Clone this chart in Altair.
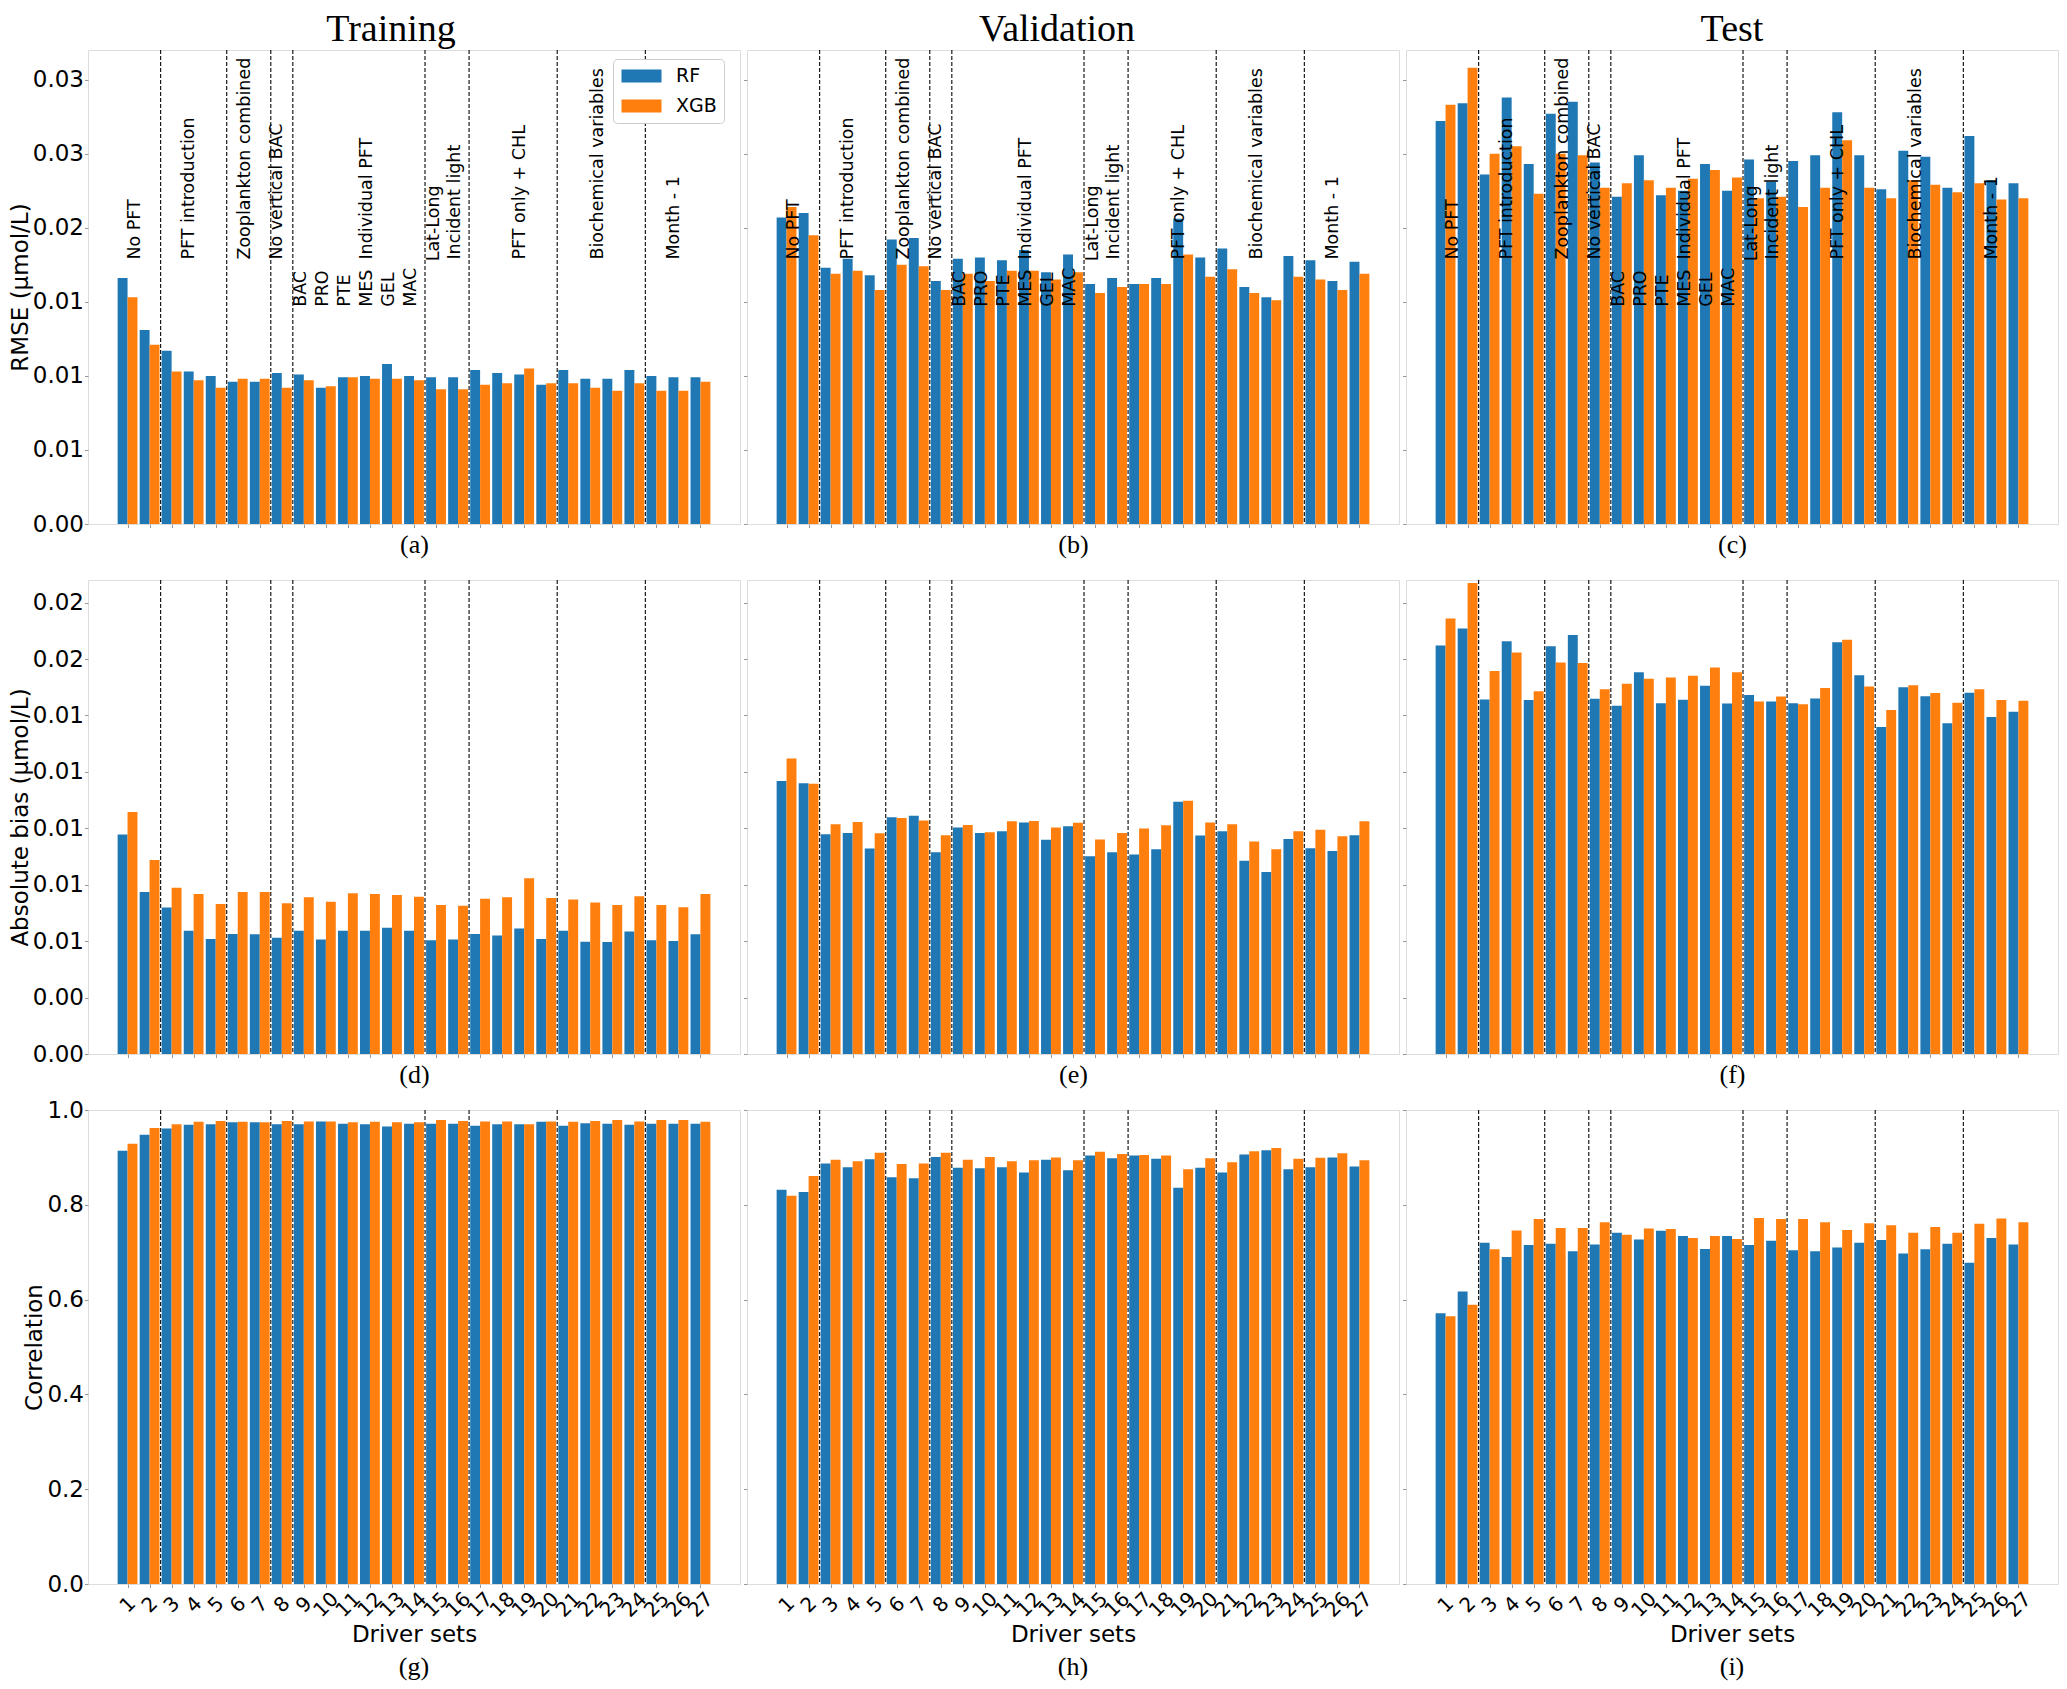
import json
import altair as alt
import pandas as pd

# ---------------- data ----------------
sets = list(range(1, 28))
models = ["RF", "XGB"]

rmse_train_rf = [0.0166, 0.0131, 0.0117, 0.0103, 0.0100, 0.0096, 0.0096, 0.0102, 0.0101, 0.0092, 0.0099, 0.0100, 0.0108, 0.0100, 0.0099, 0.0099, 0.0104, 0.0102, 0.0101, 0.0094, 0.0104, 0.0098, 0.0098, 0.0104, 0.0100, 0.0099, 0.0099]
rmse_train_xgb = [0.0153, 0.0121, 0.0103, 0.0097, 0.0092, 0.0098, 0.0098, 0.0092, 0.0097, 0.0093, 0.0099, 0.0098, 0.0098, 0.0097, 0.0091, 0.0091, 0.0094, 0.0095, 0.0105, 0.0095, 0.0095, 0.0092, 0.0090, 0.0095, 0.0090, 0.0090, 0.0096]
rmse_val_rf = [0.0207, 0.0210, 0.0173, 0.0179, 0.0168, 0.0192, 0.0193, 0.0164, 0.0179, 0.0180, 0.0178, 0.0185, 0.0170, 0.0182, 0.0162, 0.0166, 0.0162, 0.0166, 0.0206, 0.0180, 0.0186, 0.0160, 0.0153, 0.0181, 0.0178, 0.0164, 0.0177]
rmse_val_xgb = [0.0214, 0.0195, 0.0169, 0.0171, 0.0158, 0.0175, 0.0174, 0.0158, 0.0169, 0.0164, 0.0171, 0.0171, 0.0165, 0.0170, 0.0156, 0.0160, 0.0162, 0.0162, 0.0182, 0.0167, 0.0172, 0.0156, 0.0151, 0.0167, 0.0165, 0.0158, 0.0169]
rmse_test_rf = [0.0272, 0.0284, 0.0236, 0.0288, 0.0243, 0.0277, 0.0285, 0.0244, 0.0221, 0.0249, 0.0222, 0.0225, 0.0243, 0.0225, 0.0246, 0.0231, 0.0245, 0.0249, 0.0278, 0.0249, 0.0226, 0.0252, 0.0248, 0.0227, 0.0262, 0.0232, 0.0230]
rmse_test_xgb = [0.0283, 0.0308, 0.0250, 0.0255, 0.0223, 0.0250, 0.0249, 0.0227, 0.0230, 0.0232, 0.0227, 0.0233, 0.0239, 0.0234, 0.0220, 0.0221, 0.0214, 0.0227, 0.0259, 0.0227, 0.0220, 0.0232, 0.0229, 0.0224, 0.0230, 0.0219, 0.0220]

bias_train_rf = [0.00972, 0.00718, 0.00649, 0.00546, 0.00510, 0.00532, 0.00531, 0.00515, 0.00546, 0.00507, 0.00546, 0.00546, 0.00559, 0.00546, 0.00504, 0.00507, 0.00532, 0.00525, 0.00556, 0.00510, 0.00546, 0.00497, 0.00496, 0.00543, 0.00504, 0.00501, 0.00531]
bias_train_xgb = [0.01072, 0.00860, 0.00737, 0.00709, 0.00665, 0.00718, 0.00718, 0.00668, 0.00694, 0.00674, 0.00712, 0.00709, 0.00704, 0.00697, 0.00660, 0.00657, 0.00688, 0.00694, 0.00779, 0.00691, 0.00685, 0.00671, 0.00660, 0.00699, 0.00660, 0.00650, 0.00709]
bias_val_rf = [0.01210, 0.01200, 0.00974, 0.00979, 0.00910, 0.01049, 0.01056, 0.00894, 0.01003, 0.00979, 0.00987, 0.01026, 0.00949, 0.01009, 0.00876, 0.00894, 0.00884, 0.00907, 0.01118, 0.00968, 0.00987, 0.00856, 0.00806, 0.00953, 0.00912, 0.00899, 0.00969]
bias_val_xgb = [0.01309, 0.01197, 0.01018, 0.01028, 0.00978, 0.01046, 0.01034, 0.00969, 0.01015, 0.00982, 0.01031, 0.01032, 0.01003, 0.01024, 0.00950, 0.00979, 0.00999, 0.01013, 0.01122, 0.01026, 0.01018, 0.00941, 0.00907, 0.00987, 0.00993, 0.00965, 0.01031]
bias_test_rf = [0.01810, 0.01885, 0.01571, 0.01829, 0.01568, 0.01807, 0.01856, 0.01574, 0.01543, 0.01691, 0.01554, 0.01569, 0.01632, 0.01553, 0.01590, 0.01562, 0.01554, 0.01575, 0.01824, 0.01678, 0.01449, 0.01625, 0.01585, 0.01465, 0.01601, 0.01493, 0.01516]
bias_test_xgb = [0.01929, 0.02087, 0.01697, 0.01779, 0.01607, 0.01735, 0.01732, 0.01616, 0.01640, 0.01663, 0.01668, 0.01676, 0.01712, 0.01691, 0.01562, 0.01584, 0.01550, 0.01622, 0.01835, 0.01628, 0.01524, 0.01634, 0.01599, 0.01556, 0.01616, 0.01568, 0.01565]

corr_train_rf = [0.914, 0.948, 0.961, 0.969, 0.970, 0.974, 0.974, 0.970, 0.970, 0.976, 0.971, 0.970, 0.965, 0.971, 0.971, 0.971, 0.967, 0.970, 0.970, 0.975, 0.967, 0.972, 0.971, 0.969, 0.971, 0.971, 0.971]
corr_train_xgb = [0.929, 0.962, 0.970, 0.975, 0.977, 0.975, 0.974, 0.977, 0.976, 0.976, 0.974, 0.975, 0.974, 0.974, 0.979, 0.977, 0.976, 0.976, 0.970, 0.976, 0.975, 0.977, 0.979, 0.976, 0.979, 0.979, 0.975]
corr_val_rf = [0.832, 0.827, 0.887, 0.879, 0.896, 0.858, 0.856, 0.901, 0.878, 0.877, 0.879, 0.868, 0.895, 0.873, 0.904, 0.898, 0.904, 0.897, 0.836, 0.878, 0.868, 0.906, 0.915, 0.875, 0.879, 0.900, 0.881]
corr_val_xgb = [0.819, 0.861, 0.895, 0.892, 0.910, 0.886, 0.887, 0.910, 0.895, 0.901, 0.892, 0.894, 0.900, 0.894, 0.912, 0.907, 0.905, 0.904, 0.875, 0.898, 0.890, 0.913, 0.920, 0.897, 0.899, 0.909, 0.894]
corr_test_rf = [0.571, 0.617, 0.720, 0.690, 0.715, 0.718, 0.702, 0.716, 0.741, 0.727, 0.745, 0.734, 0.707, 0.734, 0.715, 0.724, 0.704, 0.702, 0.710, 0.720, 0.726, 0.697, 0.706, 0.718, 0.678, 0.730, 0.716]
corr_test_xgb = [0.565, 0.589, 0.706, 0.746, 0.770, 0.751, 0.751, 0.763, 0.737, 0.750, 0.749, 0.730, 0.734, 0.728, 0.772, 0.770, 0.770, 0.763, 0.747, 0.761, 0.757, 0.741, 0.753, 0.741, 0.760, 0.771, 0.763]

group_boundaries = [2.5, 5.5, 7.5, 8.5, 14.5, 16.5, 20.5, 24.5]

ann_labels = ["No PFT", "PFT introduction", "Zooplankton combined", "No vertical BAC",
              "BAC", "PRO", "PTE", "MES", "Individual PFT", "GEL", "MAC",
              "Lat-Long", "Incident light", "PFT only + CHL", "Biochemical variables", "Month - 1"]
ann_x = [1.34, 3.81, 6.32, 7.77, 8.89, 9.85, 10.88, 11.85, 11.85, 12.85, 13.88,
         14.89, 15.86, 18.81, 22.33, 25.82]
ann_y = [0.01785, 0.01785, 0.01785, 0.01785, 0.01466, 0.01466, 0.01466, 0.01466, 0.01785,
         0.01466, 0.01466, 0.01773, 0.01785, 0.01785, 0.01785, 0.01785]

rmse_ticks = [0.0, 0.005, 0.010, 0.015, 0.020, 0.025, 0.030]
rmse_tick_labels = ["0.00", "0.01", "0.01", "0.01", "0.02", "0.03", "0.03"]
bias_ticks = [0.0, 0.0025, 0.005, 0.0075, 0.010, 0.0125, 0.015, 0.0175, 0.020]
bias_tick_labels = ["0.00", "0.00", "0.01", "0.01", "0.01", "0.01", "0.01", "0.02", "0.02"]
corr_ticks = [0.0, 0.2, 0.4, 0.6, 0.8, 1.0]
corr_tick_labels = ["0.0", "0.2", "0.4", "0.6", "0.8", "1.0"]

col_titles = ["Training", "Validation", "Test"]
panel_letters = [["(a)", "(b)", "(c)"], ["(d)", "(e)", "(f)"], ["(g)", "(h)", "(i)"]]
row_titles = ["RMSE (μmol/L)", "Absolute bias (μmol/L)", "Correlation"]
x_title = "Driver sets"

# ---------------- styling / layout ----------------
W = 652
H = [474, 474, 474]
y_domains = [[0, 0.032], [0, 0.021], [0, 1.0]]
tick_sets = [(rmse_ticks, rmse_tick_labels), (bias_ticks, bias_tick_labels), (corr_ticks, corr_tick_labels)]
title_dx = [-23, -16, 0]
SANS = "DejaVu Sans"
SERIF = "Liberation Serif"
GRAY = "#999999"

values = [
    [(rmse_train_rf, rmse_train_xgb), (rmse_val_rf, rmse_val_xgb), (rmse_test_rf, rmse_test_xgb)],
    [(bias_train_rf, bias_train_xgb), (bias_val_rf, bias_val_xgb), (bias_test_rf, bias_test_xgb)],
    [(corr_train_rf, corr_train_xgb), (corr_val_rf, corr_val_xgb), (corr_test_rf, corr_test_xgb)],
]

xs = alt.Scale(domain=[-0.795, 28.795], nice=False, zero=False)
color_scale = alt.Scale(domain=models, range=["#1f77b4", "#ff7f0e"])

rules_df = pd.DataFrame({"pos": group_boundaries})
ann_df = pd.DataFrame({"label": ann_labels, "xpos": ann_x, "ypos": ann_y})


def make_panel(r, c):
    rf, xgb = values[r][c]
    df = pd.DataFrame({
        "set": sets + sets,
        "model": ["RF"] * 27 + ["XGB"] * 27,
        "value": rf + xgb,
    })
    ticks, tlabels = tick_sets[r]
    step = ticks[1]
    ys = alt.Scale(domain=y_domains[r], nice=False, zero=True)
    if c == 0:
        yaxis = alt.Axis(values=ticks, labelExpr=f"{json.dumps(tlabels)}[round(datum.value/{step})]",
                         title=row_titles[r], labelFont=SANS, labelFontSize=23, labelColor="black",
                         labelPadding=1, tickSize=3.5, tickColor=GRAY, domain=False, grid=False,
                         titleFont=SANS, titleFontSize=23, titleFontWeight="normal", titleColor="black",
                         titlePadding=0)
    else:
        yaxis = alt.Axis(values=ticks, labels=False, title=None, tickSize=3.5, tickColor=GRAY,
                         domain=False, grid=False)
    if r < 2:
        xaxis = alt.Axis(values=sets, labels=False, tickSize=3.5, tickColor=GRAY, domain=False,
                         grid=False, title=panel_letters[r][c], titleFont=SERIF, titleFontSize=26,
                         titleFontWeight="normal", titleColor="black", titleY=20, titleBaseline="middle")
    else:
        xaxis = alt.Axis(values=sets, labelAngle=-45, labelAlign="center", labelBaseline="middle",
                         labelPadding=17, labelFont=SANS, labelFontSize=20, labelColor="black",
                         labelOverlap=False, labelFlush=False, tickSize=3.5, tickColor=GRAY,
                         domain=False, grid=False, title=x_title, titleFont=SANS, titleFontSize=23,
                         titleFontWeight="normal", titleColor="black", titleY=50, titleBaseline="middle")

    if r == 0 and c == 0:
        legend = alt.Legend(orient="none", legendX=525, legendY=9, title=None,
                            symbolType="M-2,-0.65H2V0.65H-2Z", symbolSize=400, symbolOffset=11.5,
                            symbolStrokeWidth=0, symbolOpacity=1, labelOffset=24.5, labelFont=SANS,
                            labelFontSize=19, labelColor="black", padding=7, rowPadding=10,
                            fillColor="white", strokeColor="#cccccc", cornerRadius=4)
    else:
        legend = None

    bars = alt.Chart(df).transform_calculate(
        x0="datum.set + (datum.model == 'RF' ? -0.45 : 0)",
        x1="datum.set + (datum.model == 'RF' ? 0 : 0.45)",
    ).mark_bar(opacity=1).encode(
        x=alt.X("x0:Q", scale=xs, axis=xaxis),
        x2="x1:Q",
        y=alt.Y("value:Q", scale=ys, axis=yaxis),
        y2=alt.datum(0),
        color=alt.Color("model:N", scale=color_scale, legend=legend),
    )
    rules = alt.Chart(rules_df).mark_rule(color="#1a1a1a", strokeDash=[4, 2], strokeWidth=1.2).encode(
        x=alt.X("pos:Q", scale=xs, axis=xaxis),
    )
    layers = [bars, rules]
    if r == 0:
        texts = alt.Chart(ann_df).mark_text(angle=270, align="left", baseline="middle", font=SANS,
                                            fontSize=17.5, color="black").encode(
            x=alt.X("xpos:Q", scale=xs, axis=xaxis),
            y=alt.Y("ypos:Q", scale=ys, axis=yaxis),
            text="label:N",
        )
        layers.append(texts)
    props = dict(width=W, height=H[r])
    if r == 0:
        props["title"] = alt.TitleParams(text=col_titles[c], font=SERIF, fontSize=38, fontWeight="normal",
                                         anchor="middle", offset=0, dx=title_dx[c], color="black")
    elif r == 2:
        props["title"] = alt.TitleParams(text=panel_letters[r][c], orient="bottom", font=SERIF,
                                         fontSize=26, fontWeight="normal", anchor="middle", offset=8,
                                         color="black")
    return alt.layer(*layers).properties(**props)


panels = [make_panel(r, c) for r in range(3) for c in range(3)]

chart = alt.concat(*panels, columns=3, spacing={"row": 56, "column": 7}, bounds="flush").properties(
    padding={"left": 0, "top": 2, "right": 0, "bottom": 0}
).configure_view(stroke=GRAY, strokeWidth=1.5).configure(background="white")

chart.save("out.html", embed_options={"renderer": "svg", "actions": False})
